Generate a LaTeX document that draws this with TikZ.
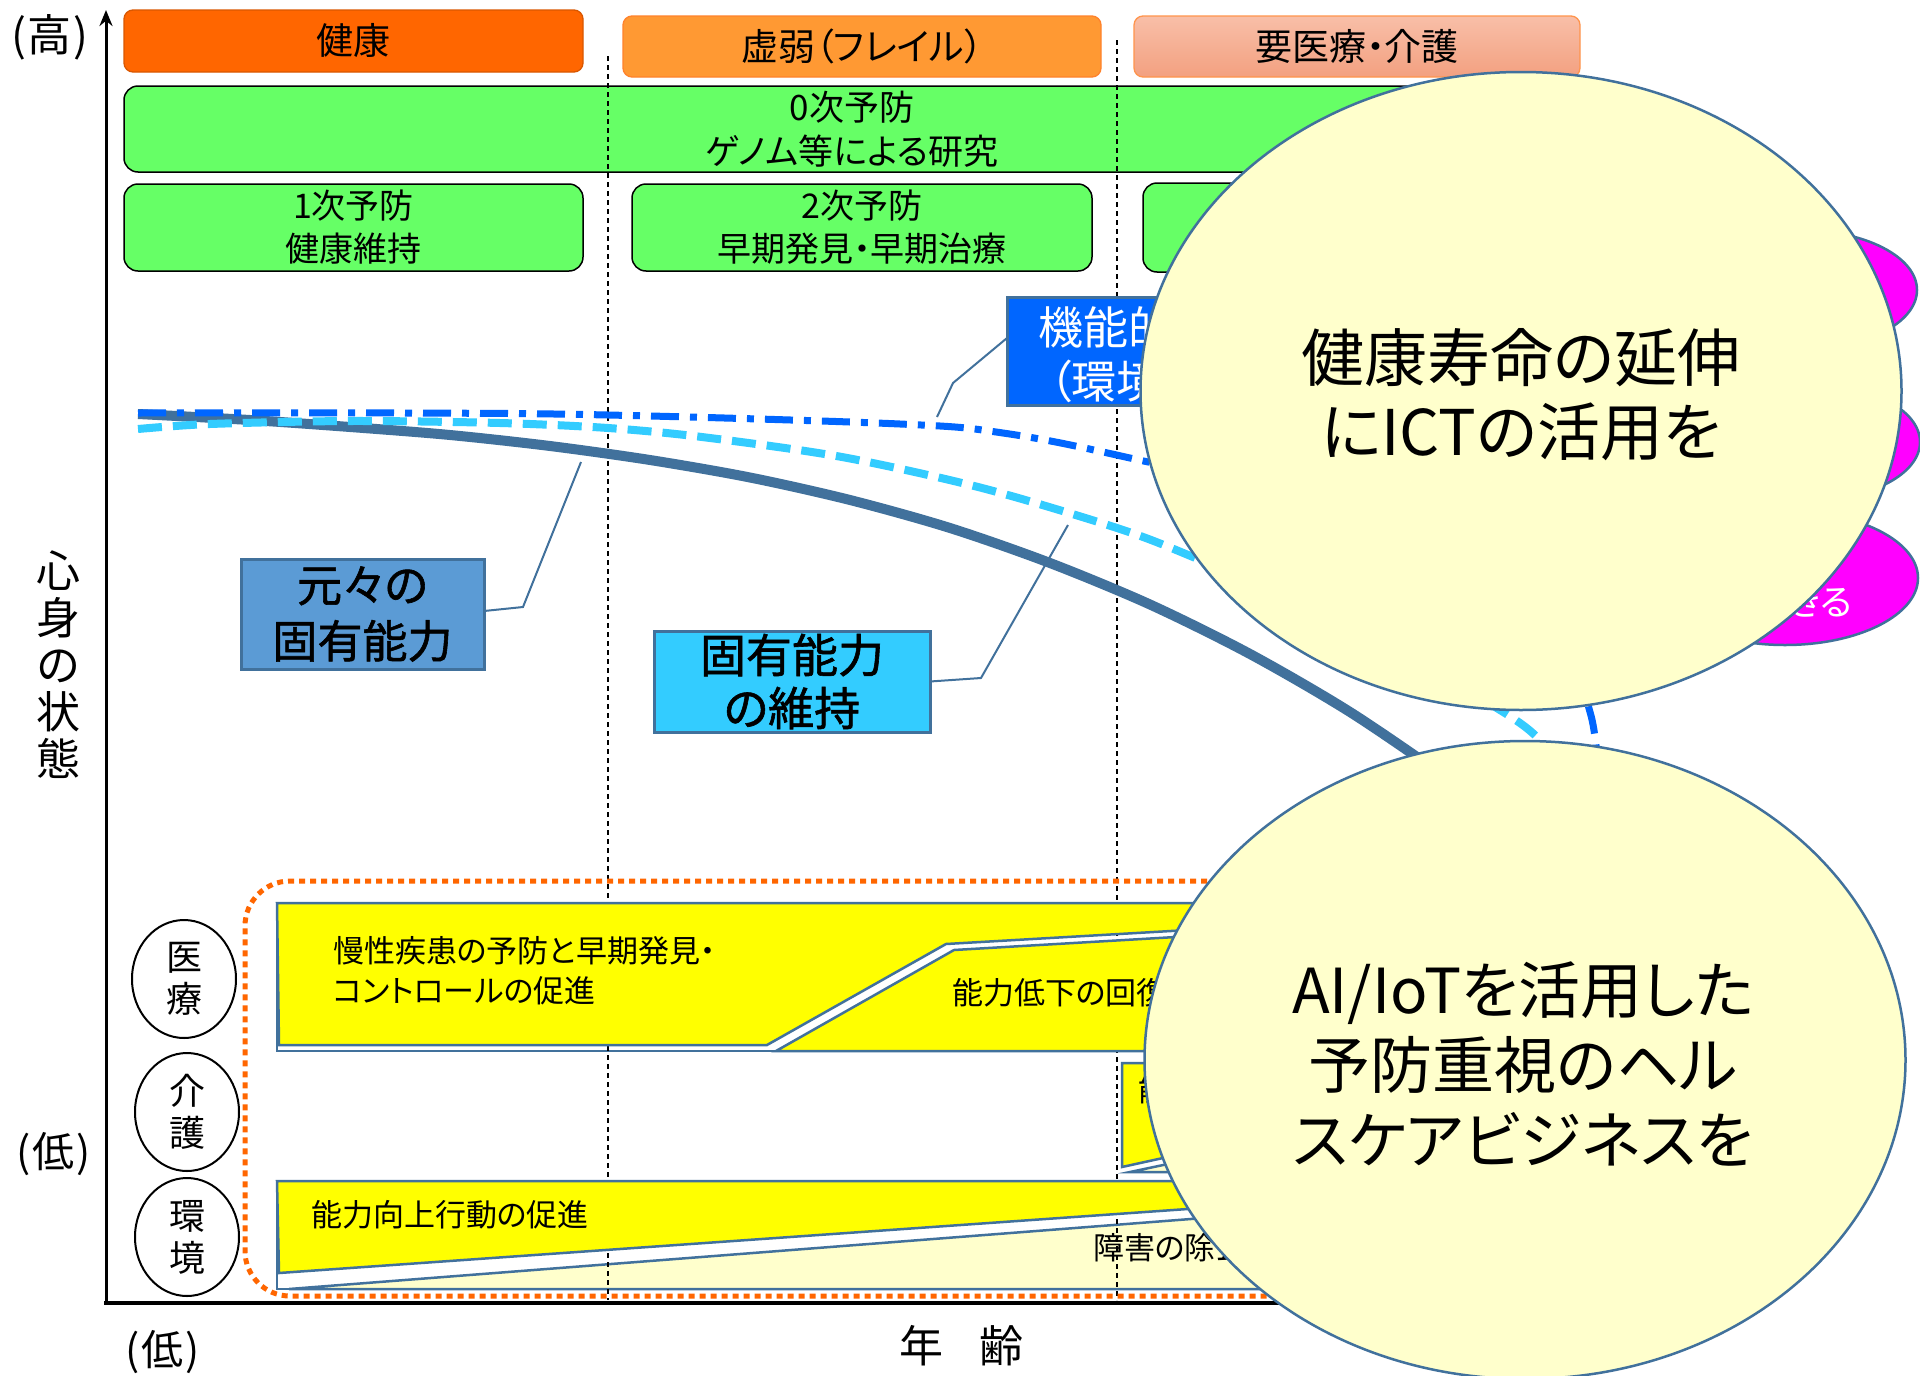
\documentclass[tikz,border=0pt]{standalone}
\usepackage{fontspec}
\setmainfont{Noto Sans CJK JP}[RawFeature=+palt]
\newfontfamily\jpsemibold{Noto Sans CJK JP}[RawFeature=+palt, FakeBold=1.3]
\usetikzlibrary{shapes.geometric,arrows.meta}
\definecolor{cHealth}{HTML}{FF6600}
\definecolor{cFrail}{HTML}{FF9933}
\definecolor{cCareT}{HTML}{F8BFA8}
\definecolor{cCareB}{HTML}{F3A080}
\definecolor{cGreen}{HTML}{66FF66}
\definecolor{cSteel}{HTML}{41719C}
\definecolor{cOrig}{HTML}{5B9BD5}
\definecolor{cKeep}{HTML}{33CCFF}
\definecolor{cFunc}{HTML}{0066FF}
\definecolor{cYel}{HTML}{FFFF00}
\definecolor{cCream}{HTML}{FFFFCC}
\definecolor{cMag}{HTML}{FF00FF}
\newcommand{\jfs}[2]{\fontsize{#1}{#2}\selectfont}
\tikzset{
  catbox/.style={rounded corners=9pt, line width=1.3pt, text=black},
  greenbox/.style={draw=black, fill=cGreen, rounded corners=14pt, line width=1.5pt, align=center},
  lblbox/.style={draw=cSteel, line width=3pt, align=center},
  yband/.style={draw=cSteel, line width=2.5pt, fill=cYel},
  pale/.style={draw=cSteel, line width=2.5pt, fill=cCream},
  frameband/.style={draw=cSteel, line width=2.5pt, fill=white},
  vline/.style={draw=black, line width=1.2pt, dash pattern=on 5pt off 4pt},
  callout/.style={draw=cSteel, line width=2pt},
  bigell/.style={ellipse, draw=cSteel, line width=2.5pt, fill=cCream, minimum width=761pt, minimum height=638pt},
  magell/.style={ellipse, draw=cSteel, line width=2.5pt, fill=cMag},
  catell/.style={ellipse, draw=black, line width=2pt, fill=white, align=center, minimum width=104pt, minimum height=118pt, font={\jfs{36}{42}}},
}
\begin{document}
\begin{tikzpicture}[x=1pt,y=-1pt, every node/.style={inner sep=0pt, outer sep=0pt}]
\useasboundingbox[fill=white] (0,0) rectangle (1920,1376);

% ---- top category boxes
\node[catbox, fill=cHealth, draw=cHealth!85!black, minimum width=459pt, minimum height=62pt, font={\jfs{37}{37}}] (kenko) at (353.5,41) {健康};
\node[catbox, fill=cFrail, draw=cFrail!85!red, minimum width=478pt, minimum height=61pt, font={\jfs{37}{37}}] (kyojaku) at (862,46.5) {虚弱（フレイル）};
\node[catbox, top color=cCareT, bottom color=cCareB, draw=cHealth!70!white, minimum width=446pt, minimum height=61pt, font={\jfs{37}{37}}] (yoiryo) at (1357,46.5) {要医療・介護};

% ---- prevention boxes
\node[greenbox, minimum width=1456pt, minimum height=86pt, font={\jfs{35}{44}}] (zero) at (852,129) {0次予防\\ゲノム等による研究};
\node[greenbox, minimum width=459pt, minimum height=87pt, font={\jfs{34}{43}}] (first) at (353.5,227.5) {1次予防\\健康維持};
\node[greenbox, minimum width=460pt, minimum height=87pt, font={\jfs{34}{43}}] (second) at (862,227.5) {2次予防\\早期発見・早期治療};
\node[greenbox, minimum width=437pt, minimum height=89pt] (third) at (1361.5,227.5) {};

% ---- band frames and pale wedges
\draw[frameband] (277,903) rectangle (1500,1051);
\draw[frameband] (277,1181) rectangle (1500,1289);
\draw[pale] (1130,1172) -- (1500,1094) -- (1500,1172) -- cycle;
\draw[pale] (289,1289) -- (1500,1195) -- (1500,1289) -- cycle;

% ---- vertical dashed dividers
\coordinate (d1t) at (608,56);  \coordinate (d1b) at (608,1300);
\coordinate (d2t) at (1117,40); \coordinate (d2b) at (1117,1300);
\draw[vline] (d1t) -- (d1b);
\draw[vline] (d2t) -- (d2b);

% ---- yellow bands
\draw[yband] (277,903) -- (1500,903) -- (1500,912) -- (946,944) -- (767,1045) -- (279,1045) -- cycle;
\draw[yband] (776,1051) -- (954,950) -- (1500,918) -- (1500,1051) -- cycle;
\draw[yband] (1122,1063) -- (1500,1063) -- (1500,1084) -- (1122,1167) -- cycle;
\draw[yband] (277,1181) -- (1500,1181) -- (1500,1187) -- (279,1273) -- cycle;

\node[anchor=west, align=left, font={\jfs{31}{40}}] (t1) at (333,971) {慢性疾患の予防と早期発見・\\コントロールの促進};
\node[anchor=west, font={\jfs{31}{31}}] (t2) at (952,993) {能力低下の回復};
\node[anchor=west, font={\jfs{31}{31}}] (t3) at (1138,1090) {能力};
\node[anchor=west, font={\jfs{31}{31}}] (t4) at (311,1215) {能力向上行動の促進};
\node[anchor=west, font={\jfs{31}{31}}] (t5) at (1093,1248) {障害の除去};

% ---- curves
\draw[cSteel, line width=10pt] plot[smooth, tension=0.5] coordinates {(138,414) (250,420) (350,427) (450,435) (550,446) (650,460) (750,477.5) (850,500) (950,528) (1050,563) (1150,604.5) (1250,654) (1350,712) (1450,780) (1500,817)};
\draw[cKeep, line width=8pt, dash pattern=on 24pt off 11pt] plot[smooth, tension=0.5] coordinates {(138,429) (210,424) (351,421) (500,423) (608,428) (702,437) (842,457) (982,488) (1117,528) (1193,557) (1350,625) (1500,710) (1545,745) (1590,800)};
\draw[cFunc, line width=7pt, dash pattern=on 28pt off 11pt on 7pt off 11pt] plot[smooth, tension=0.6] coordinates {(138,413) (400,413) (608,415) (900,424) (1003,433) (1121,456) (1300,500) (1450,565) (1560,645) (1590,712) (1598,770)};

% ---- label boxes with callouts
\node[lblbox, fill=cOrig, minimum width=243pt, minimum height=110pt, font={\jpsemibold\jfs{45}{56}}] (orig) at (362.5,614) {元々の\\固有能力};
\node[lblbox, fill=cKeep, minimum width=276pt, minimum height=101pt, font={\jpsemibold\jfs{46}{53}}] (keep) at (792,681.5) {固有能力\\の維持};
\node[lblbox, fill=cFunc, minimum width=293pt, minimum height=108pt] (func) at (1153.5,351) {};
\node[anchor=west, text=white, font={\jfs{45}{45}}] (func1) at (1038,327) {機能的能力};
\node[anchor=west, text=white, font={\jfs{45}{45}}] (func2) at (1049,381) {（環境};

\coordinate (origbend) at (523,607); \coordinate (origtip) at (581,462);
\coordinate (keepbend) at (981,678); \coordinate (keeptip) at (1068,525);
\coordinate (funcbend) at (953,383); \coordinate (functip) at (937,417);
\draw[callout] ([yshift=3pt]orig.east) -- (origbend) -- (origtip);
\draw[callout] (keep.east) -- (keepbend) -- (keeptip);
\draw[callout] ([yshift=13pt]func.west) -- (funcbend) -- (functip);

% ---- dotted frame and category circles
\node[draw=cHealth, line width=5pt, dash pattern=on 6pt off 5pt, rounded corners=45pt, minimum width=1315pt, minimum height=415pt] (frame) at (902.5,1088.5) {};
\node[catell] (iryo) at (184,979) {医\\療};
\node[catell] (kaigo) at (187,1112) {介\\護};
\node[catell] (kankyo) at (187,1237) {環\\境};

% ---- axes
\coordinate (yb) at (106,1305); \coordinate (yt) at (106,10);
\coordinate (xo) at (104,1303); \coordinate (xe) at (1500,1303);
\draw[line width=3pt, -{Stealth[length=16pt,width=13pt]}] (yb) -- (yt);
\draw[line width=4.5pt] (xo) -- (xe);
\node[font={\jfs{44}{44}}] (hi) at (50,37) {(\kern2pt高\kern2pt)};
\node[font={\jfs{42}{42}}] (lo1) at (54,1154) {(\kern2pt低\kern2pt)};
\node[font={\jfs{42}{42}}] (lo2) at (163,1352) {(\kern2pt低\kern2pt)};
\node[font={\jfs{44}{44}}] (nenrei) at (961,1346) {年\hspace{36pt}齢};
\node[align=center, font={\jfs{44}{47}}] (shinshin) at (58,665) {心\\身\\の\\状\\態};

% ---- magenta shapes
\node[magell, minimum width=234pt, minimum height=120pt] (m1) at (1800,290) {};
\node[magell, minimum width=220pt, minimum height=116pt] (m2) at (1810,442) {};
\node[magell, minimum width=266pt, minimum height=134pt] (m3) at (1785,578) {};
\node[anchor=east, text=white, font={\jfs{36}{36}}] (dekiru) at (1852,602) {できる};

% ---- big ellipses
\node[bigell] (goal1) at (1521,391) {};
\node[align=center, font={\jfs{63}{74}}] (goal1t) at (1521,395) {健康寿命の延伸\\にICTの活用を};
\node[bigell] (goal2) at (1525,1060) {};
\node[align=center, font={\jfs{62}{75}}] (goal2t) at (1523,1064) {AI/IoTを活用した\\予防重視のヘル\\スケアビジネスを};
\end{tikzpicture}
\end{document}
